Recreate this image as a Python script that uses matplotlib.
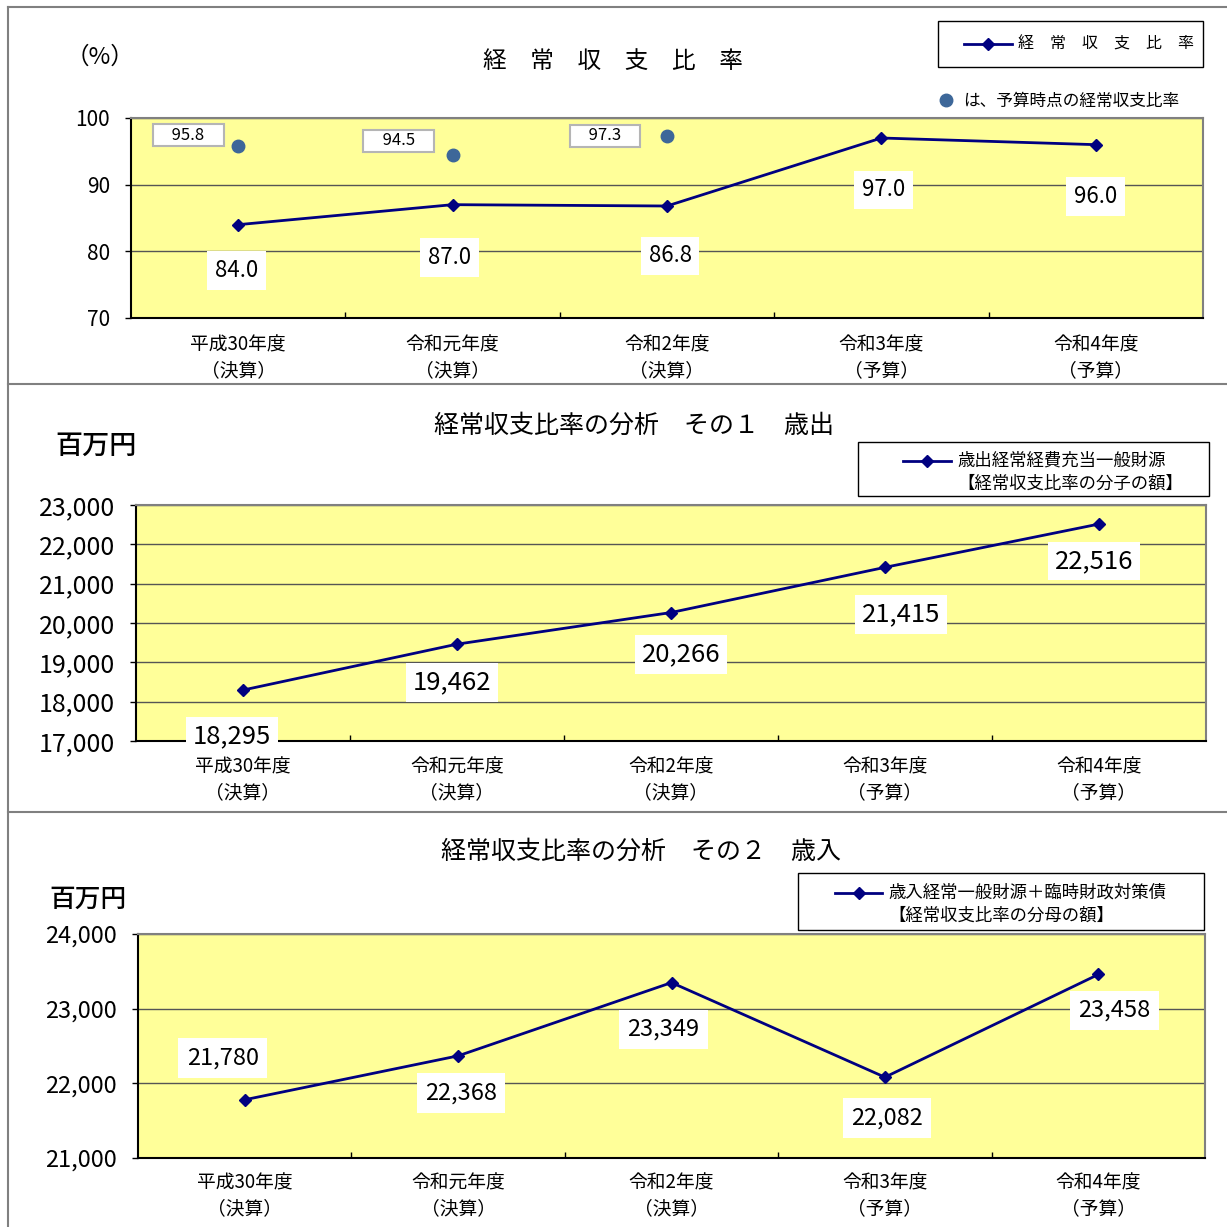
import matplotlib
matplotlib.use("Agg")
import matplotlib.pyplot as plt
from matplotlib.lines import Line2D
from matplotlib.patches import Rectangle
import numpy as np

plt.rcParams["font.family"] = ["Noto Sans CJK JP", "DejaVu Sans"]

# 年度と区分
YEARS = ["平成30年度", "令和元年度", "令和2年度", "令和3年度", "令和4年度"]
KUBUN = ["（決算）", "（決算）", "（決算）", "（予算）", "（予算）"]

# 経常収支比率 (%)
RATIO = [84.0, 87.0, 86.8, 97.0, 96.0]
RATIO_BUDGET = [95.8, 94.5, 97.3]          # 予算時点の比率（最初の3年度）

# 歳出経常経費充当一般財源（分子, 百万円）
NUMER = [18295, 19462, 20266, 21415, 22516]
# 歳入経常一般財源＋臨時財政対策債（分母, 百万円）
DENOM = [21780, 22368, 23349, 22082, 23458]

W = H = 1227
NAVY = "#000080"
YELLOW = "#FFFF99"
DOT = "#3d6799"

def fx(x): return x / W
def fy(y): return 1 - y / H

fig = plt.figure(figsize=(12.27, 12.27), dpi=100)

def panel(box, ylim, yticks, ytick_fs, fmt, xpad=11.5):
    l, t, r, b = box
    ax = fig.add_axes([fx(l), fy(b), (r - l) / W, (b - t) / H])
    ax.set_facecolor(YELLOW)
    ax.set_xlim(-0.5, len(YEARS) - 0.5)
    ax.set_ylim(*ylim)
    ax.set_yticks(yticks)
    ax.set_yticklabels([fmt(v) for v in yticks], fontsize=ytick_fs)
    ax.set_xticks(np.arange(len(YEARS)))
    ax.set_xticklabels([y + "\n" + k for y, k in zip(YEARS, KUBUN)],
                       fontsize=13.5, linespacing=1.3)
    ax.set_xticks(np.arange(len(YEARS) - 1) + 0.5, minor=True)
    ax.tick_params(axis="x", which="major", length=0, pad=xpad)
    ax.tick_params(axis="x", which="minor", direction="in", length=4.5, width=1)
    ax.tick_params(axis="y", direction="out", length=4, width=1, pad=11)
    ax.yaxis.grid(True, color="#555555", lw=1)
    ax.set_axisbelow(True)
    for s in ("top", "right"):
        ax.spines[s].set_color("#808080"); ax.spines[s].set_linewidth(1.5)
    for s in ("left", "bottom"):
        ax.spines[s].set_color("black"); ax.spines[s].set_linewidth(1.5)
    return ax

def series(ax, vals):
    ax.plot(np.arange(len(vals)), vals, color=NAVY, lw=2, marker="D",
            markersize=6.2, zorder=4, clip_on=False)

def labels(ax, vals, offs, fs, fmt, pad=0.35):
    for i, (v, (dx, dy)) in enumerate(zip(vals, offs)):
        ax.annotate(fmt(v), xy=(i, v), xytext=(dx * 0.72, -dy * 0.72),
                    textcoords="offset points", ha="center", va="center",
                    fontsize=fs, zorder=6, annotation_clip=False,
                    bbox=dict(boxstyle="square,pad=%s" % pad, fc="white", ec="none"))

def legend_box(l, t, r, b, lx0, lx1, ly, lines, fs):
    fig.add_artist(Rectangle((fx(l), fy(b)), (r - l) / W, (b - t) / H,
                             transform=fig.transFigure, fc="white", ec="black", lw=1))
    fig.add_artist(Line2D([fx(lx0), fx(lx1)], [fy(ly), fy(ly)], color=NAVY, lw=2,
                          transform=fig.transFigure))
    fig.add_artist(Line2D([fx((lx0 + lx1) / 2)], [fy(ly)], color=NAVY, marker="D",
                          markersize=6, transform=fig.transFigure))
    for k, s in enumerate(lines):
        fig.text(fx(lx1 + 6), fy(ly + k * 23), s, fontsize=fs, ha="left", va="center")

# 外枠と区切り線
for xs, ys in [([8, 8], [7, H]), ([8, W], [7, 7]), ([8, W], [384, 384]), ([8, W], [812, 812])]:
    fig.add_artist(Line2D([fx(x) for x in xs], [fy(y) for y in ys], color="#808080",
                          lw=1.5, transform=fig.transFigure))

# ---- 経常収支比率 ----
ax1 = panel((131, 118, 1203, 318), (70, 100), [70, 80, 90, 100], 15, lambda v: "%d" % v)
series(ax1, RATIO)
ax1.plot(np.arange(len(RATIO_BUDGET)), RATIO_BUDGET, "o", color=DOT, markersize=9,
         zorder=5, clip_on=False)
labels(ax1, RATIO, [(-2, 46), (-3, 53), (3, 50), (2, 52), (0, 52)], 16, lambda v: "%.1f" % v)
for i, (v, (dx, dy)) in enumerate(zip(RATIO_BUDGET, [(-50, -11), (-54, -14), (-62, 0)])):
    ax1.annotate("　%.1f　" % v, xy=(i, v), xytext=(dx * 0.72, -dy * 0.72),
                 textcoords="offset points", ha="center", va="center", fontsize=12,
                 zorder=6, bbox=dict(boxstyle="square,pad=0.15", fc="white",
                                     ec="#b5b5b5", lw=1.5))
fig.text(fx(613), fy(61), "経　常　収　支　比　率", fontsize=17, ha="center", va="center")
fig.text(fx(100), fy(57), "（%）", fontsize=17, ha="center", va="center")
legend_box(938, 21, 1203, 67, 964, 1012, 44, ["経　常　収　支　比　率"], 11.5)
fig.add_artist(Line2D([fx(946)], [fy(100)], marker="o", color=DOT, markersize=9,
                      transform=fig.transFigure))
fig.text(fx(963), fy(101), "は、予算時点の経常収支比率", fontsize=12, ha="left", va="center")

# ---- その１ 歳出 ----
ax2 = panel((136, 505, 1206, 741), (17000, 23000), list(range(17000, 23001, 1000)), 18,
            lambda v: "{:,}".format(v), xpad=11)
series(ax2, NUMER)
labels(ax2, NUMER, [(-11, 46), (-5, 38), (10, 42), (16, 47), (-5, 37)], 18.5,
       lambda v: "{:,}".format(v), pad=0.25)
fig.text(fx(634), fy(426), "経常収支比率の分析　その１　歳出", fontsize=18, ha="center", va="center")
fig.text(fx(96), fy(446), "百万円", fontsize=19.5, ha="center", va="center", fontweight="medium")
legend_box(858, 442, 1209, 496, 903, 951, 461,
           ["歳出経常経費充当一般財源", "【経常収支比率の分子の額】"], 12.5)

# ---- その２ 歳入 ----
ax3 = panel((138, 934, 1205, 1158), (21000, 24000), list(range(21000, 24001, 1000)), 17,
            lambda v: "{:,}".format(v), xpad=10.5)
series(ax3, DENOM)
labels(ax3, DENOM, [(-22, -42), (3, 37), (-8, 47), (2, 41), (16, 36)], 17,
       lambda v: "{:,}".format(v))
fig.text(fx(641), fy(852), "経常収支比率の分析　その２　歳入", fontsize=18, ha="center", va="center")
fig.text(fx(88), fy(899), "百万円", fontsize=18.5, ha="center", va="center", fontweight="medium")
legend_box(798, 873, 1204, 930, 835, 882, 893,
           ["歳入経常一般財源＋臨時財政対策債", "【経常収支比率の分母の額】"], 12.5)

fig.savefig("out.png", dpi=100, facecolor="white")
